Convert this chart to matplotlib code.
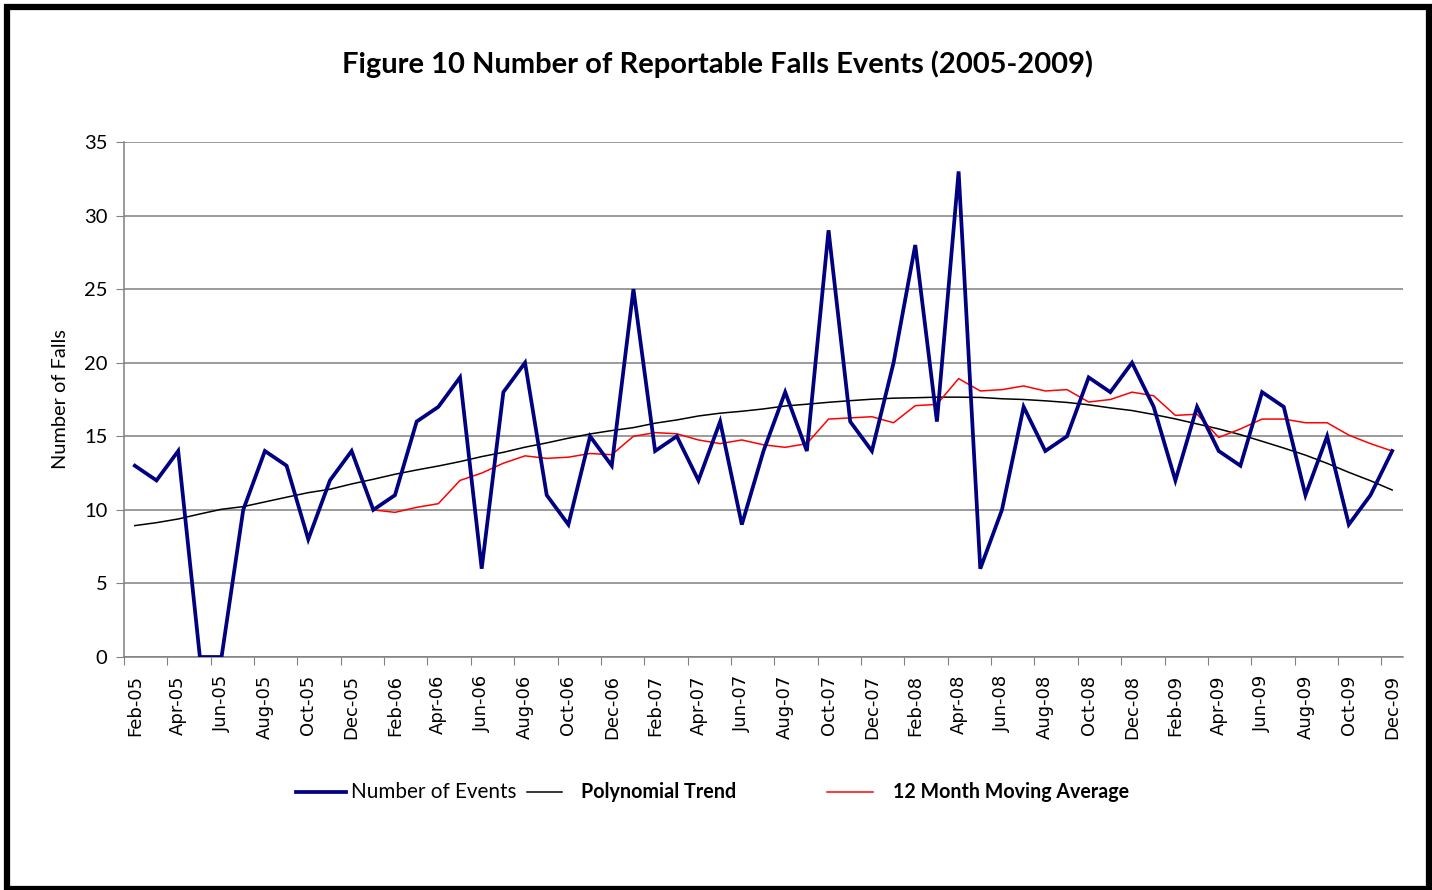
import numpy as np
import matplotlib
matplotlib.use("Agg")
import matplotlib.pyplot as plt
from matplotlib.lines import Line2D
from matplotlib.patches import Rectangle

plt.rcParams['font.family'] = ['Lato', 'DejaVu Sans']

months = ["Feb-05", "Mar-05", "Apr-05", "May-05", "Jun-05", "Jul-05", "Aug-05", "Sep-05",
          "Oct-05", "Nov-05", "Dec-05",
          "Jan-06", "Feb-06", "Mar-06", "Apr-06", "May-06", "Jun-06", "Jul-06", "Aug-06",
          "Sep-06", "Oct-06", "Nov-06", "Dec-06",
          "Jan-07", "Feb-07", "Mar-07", "Apr-07", "May-07", "Jun-07", "Jul-07", "Aug-07",
          "Sep-07", "Oct-07", "Nov-07", "Dec-07",
          "Jan-08", "Feb-08", "Mar-08", "Apr-08", "May-08", "Jun-08", "Jul-08", "Aug-08",
          "Sep-08", "Oct-08", "Nov-08", "Dec-08",
          "Jan-09", "Feb-09", "Mar-09", "Apr-09", "May-09", "Jun-09", "Jul-09", "Aug-09",
          "Sep-09", "Oct-09", "Nov-09", "Dec-09"]

events = [13, 12, 14, 0, 0, 10, 14, 13, 8, 12, 14,
          10, 11, 16, 17, 19, 6, 18, 20, 11, 9, 15, 13,
          25, 14, 15, 12, 16, 9, 14, 18, 14, 29, 16, 14,
          20, 28, 16, 33, 6, 10, 17, 14, 15, 19, 18, 20,
          17, 12, 17, 14, 13, 18, 17, 11, 15, 9, 11, 14]

poly_trend = [8.93, 9.13, 9.38, 9.72, 10.04, 10.22, 10.54, 10.86, 11.17, 11.40, 11.76,
              12.08, 12.42, 12.71, 12.98, 13.28, 13.62, 13.91, 14.26, 14.55, 14.87, 15.16,
              15.39, 15.59, 15.89, 16.11, 16.38, 16.57, 16.70, 16.86, 17.06, 17.18, 17.31,
              17.42, 17.52, 17.59, 17.62, 17.66, 17.66, 17.64, 17.55, 17.50, 17.41, 17.30,
              17.14, 16.93, 16.75, 16.48, 16.18, 15.84, 15.50, 15.11, 14.66, 14.20, 13.72,
              13.16, 12.55, 11.98, 11.35]

# 12 month moving average, starting Jan-06
mov_avg_start = "Jan-06"
mov_avg = [10.00, 9.83, 10.17, 10.42, 12.00, 12.50, 13.17, 13.67, 13.50, 13.58, 13.83, 13.75,
           15.00, 15.25, 15.17, 14.75, 14.50, 14.75, 14.42, 14.25, 14.50, 16.17, 16.25, 16.33,
           15.92, 17.08, 17.17, 18.92, 18.08, 18.17, 18.42, 18.08, 18.17, 17.33, 17.50, 18.00,
           17.75, 16.42, 16.50, 14.92, 15.50, 16.17, 16.17, 15.92, 15.92, 15.08, 14.50, 14.00]

yticks = [0, 5, 10, 15, 20, 25, 30, 35]

W, H = 1432, 890
fig = plt.figure(figsize=(W / 100, H / 100), dpi=100)


def fx(px):
    return px / W


def fy(py):
    return 1 - py / H


ax = fig.add_axes([fx(124), fy(657), fx(1403) - fx(124), fy(142) - fy(657)])

x = np.arange(len(months))
i0 = months.index(mov_avg_start)
x_ma = np.arange(i0, i0 + len(mov_avg))

ax.plot(x, events, color='#000080', lw=2.7, zorder=4, solid_joinstyle='miter')
ax.plot(x, poly_trend, color='black', lw=1.1, zorder=3)
ax.plot(x_ma, mov_avg, color='#FF0000', lw=1.1, zorder=3)

ax.set_xlim(-0.5, len(months) - 0.5)
ax.set_ylim(0, 35)
ax.set_yticks(yticks)
ax.set_yticklabels([str(v) for v in yticks], fontsize=14.5)
ax.grid(axis='y', color='#808080', lw=1.1)
ax.set_axisbelow(True)

ax.set_xticks(np.arange(-0.5, len(months) - 1, 2))
ax.set_xticklabels([])
ax.set_xticks(x[::2], minor=True)
ax.set_xticklabels(months[::2], minor=True, rotation=90, fontsize=13,
                   family='DejaVu Sans')
ax.tick_params(axis='x', which='major', length=6, color='#808080', direction='out')
ax.tick_params(axis='x', which='minor', length=0, pad=13)
ax.tick_params(axis='y', length=6, color='#808080', pad=6)

for s in ['top', 'right']:
    ax.spines[s].set_visible(False)
for s in ['left', 'bottom']:
    ax.spines[s].set_color('#808080')
    ax.spines[s].set_linewidth(1.1)

ax.set_ylabel('Number of Falls', fontsize=14.4, labelpad=11)

fig.text(fx(717), fy(64), 'Figure 10 Number of Reportable Falls Events (2005-2009)',
         ha='center', va='center', fontsize=21, fontweight='bold')

# legend
ly = fy(792)
fig.add_artist(Line2D([fx(296), fx(346)], [ly, ly], color='#000080', lw=2.7,
                      transform=fig.transFigure))
fig.text(fx(351), ly, 'Number of Events', ha='left', va='center', fontsize=14.9)
fig.add_artist(Line2D([fx(527), fx(562)], [ly, ly], color='black', lw=1.1,
                      transform=fig.transFigure))
fig.text(fx(581), ly, 'Polynomial Trend', ha='left', va='center', fontsize=14.2,
         fontweight='bold')
fig.add_artist(Line2D([fx(827), fx(873)], [ly, ly], color='#FF0000', lw=1.1,
                      transform=fig.transFigure))
fig.text(fx(893), ly, '12 Month Moving Average', ha='left', va='center', fontsize=14.1,
         fontweight='bold')

# outer border
fig.add_artist(Rectangle((fx(6.5), fy(889)), fx(1429) - fx(6.5), fy(7) - fy(889),
                         transform=fig.transFigure, fill=False, edgecolor='black',
                         lw=4.5, joinstyle='miter'))

fig.savefig('out.png', dpi=100)
